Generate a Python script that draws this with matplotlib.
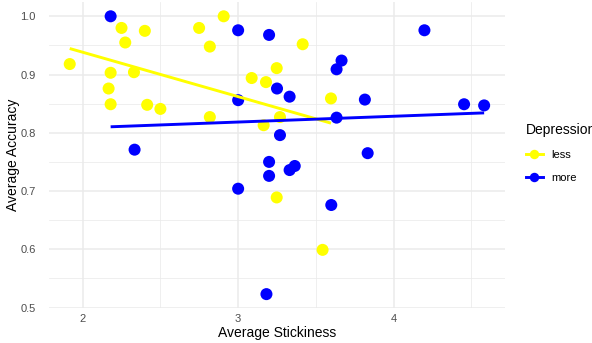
import numpy as np
import matplotlib
matplotlib.use("Agg")
import matplotlib.pyplot as plt
from matplotlib.lines import Line2D
from matplotlib.ticker import MultipleLocator

plt.rcParams['font.family'] = ['Liberation Sans', 'DejaVu Sans']

# depression = less
less_x = [1.917, 2.25, 2.40, 2.274, 2.18, 2.33, 2.167, 2.18, 2.415, 2.50,
          2.749, 2.907, 2.818, 2.818, 3.087, 3.415, 3.248, 3.179, 3.597,
          3.269, 3.164, 3.248, 3.543]
less_y = [0.918, 0.980, 0.975, 0.955, 0.903, 0.904, 0.876, 0.849, 0.848, 0.841,
          0.980, 1.000, 0.948, 0.827, 0.894, 0.952, 0.911, 0.887, 0.859,
          0.827, 0.813, 0.689, 0.599]

# depression = more
more_x = [2.18, 3.0, 3.0, 2.334, 3.0, 3.199, 4.198, 3.665, 3.633, 3.25,
          3.331, 3.815, 4.453, 4.582, 3.633, 3.269, 3.833, 3.199, 3.364,
          3.331, 3.199, 3.599, 3.182]
more_y = [1.000, 0.976, 0.856, 0.771, 0.704, 0.968, 0.976, 0.924, 0.909, 0.876,
          0.862, 0.857, 0.849, 0.847, 0.826, 0.796, 0.765, 0.750, 0.743,
          0.736, 0.726, 0.676, 0.523]

groups = [('less', less_x, less_y, '#FFFF00'),
          ('more', more_x, more_y, '#0000FF')]

fig = plt.figure(figsize=(5.92, 3.43), dpi=100)
ax = fig.add_axes([0.0828, 0.102, 0.770, 0.891])

for name, xs, ys, col in groups:
    xs = np.array(xs)
    ys = np.array(ys)
    ax.scatter(xs, ys, s=75, color=col, edgecolors='none', zorder=3)
    # lm fit per group, like geom_smooth(method = "lm", se = FALSE)
    b, a = np.polyfit(xs, ys, 1)
    lx = np.array([xs.min(), xs.max()])
    ax.plot(lx, a + b * lx, color=col, lw=2.1, zorder=4, solid_capstyle='butt')

allx = less_x + more_x
ally = less_y + more_y
dx = (max(allx) - min(allx)) * 0.05
dy = (max(ally) - min(ally)) * 0.05
ax.set_xlim(min(allx) - dx, max(allx) + dx)
ax.set_ylim(min(ally) - dy, max(ally) + dy)

ax.xaxis.set_major_locator(MultipleLocator(1))
ax.xaxis.set_minor_locator(MultipleLocator(0.5))
ax.yaxis.set_minor_locator(MultipleLocator(0.05))
ax.set_yticks([0.5, 0.6, 0.7, 0.8, 0.9, 1.0])
ax.set_yticklabels(['0.5', '0.6', '0.7', '0.8', '0.9', '1.0'])
ax.grid(which='major', color='#EBEBEB', lw=1.1)
ax.grid(which='minor', color='#EBEBEB', lw=0.55)
ax.set_axisbelow(True)
for sp in ax.spines.values():
    sp.set_visible(False)
ax.tick_params(which='both', length=0, labelsize=8, labelcolor='#4D4D4D')
ax.tick_params(axis='x', pad=4)
ax.tick_params(axis='y', pad=9.5)

ax.set_xlabel('Average Stickiness', fontsize=10, labelpad=2)
ax.set_ylabel('Average Accuracy', fontsize=10, labelpad=0)

handles = [Line2D([0], [0], color=c, lw=2.1, marker='o', markersize=6.8,
                  markeredgecolor='none') for _, _, _, c in groups]
leg = fig.legend(handles, [g[0] for g in groups], title='Depression',
                 loc='upper left', bbox_to_anchor=(0.8885, 0.640),
                 frameon=False, fontsize=8, title_fontsize=10,
                 borderpad=0, borderaxespad=0,
                 handlelength=1.5, handletextpad=0.8, labelspacing=1.15)
leg._legend_box.align = 'left'

fig.savefig('out.png', dpi=100)
